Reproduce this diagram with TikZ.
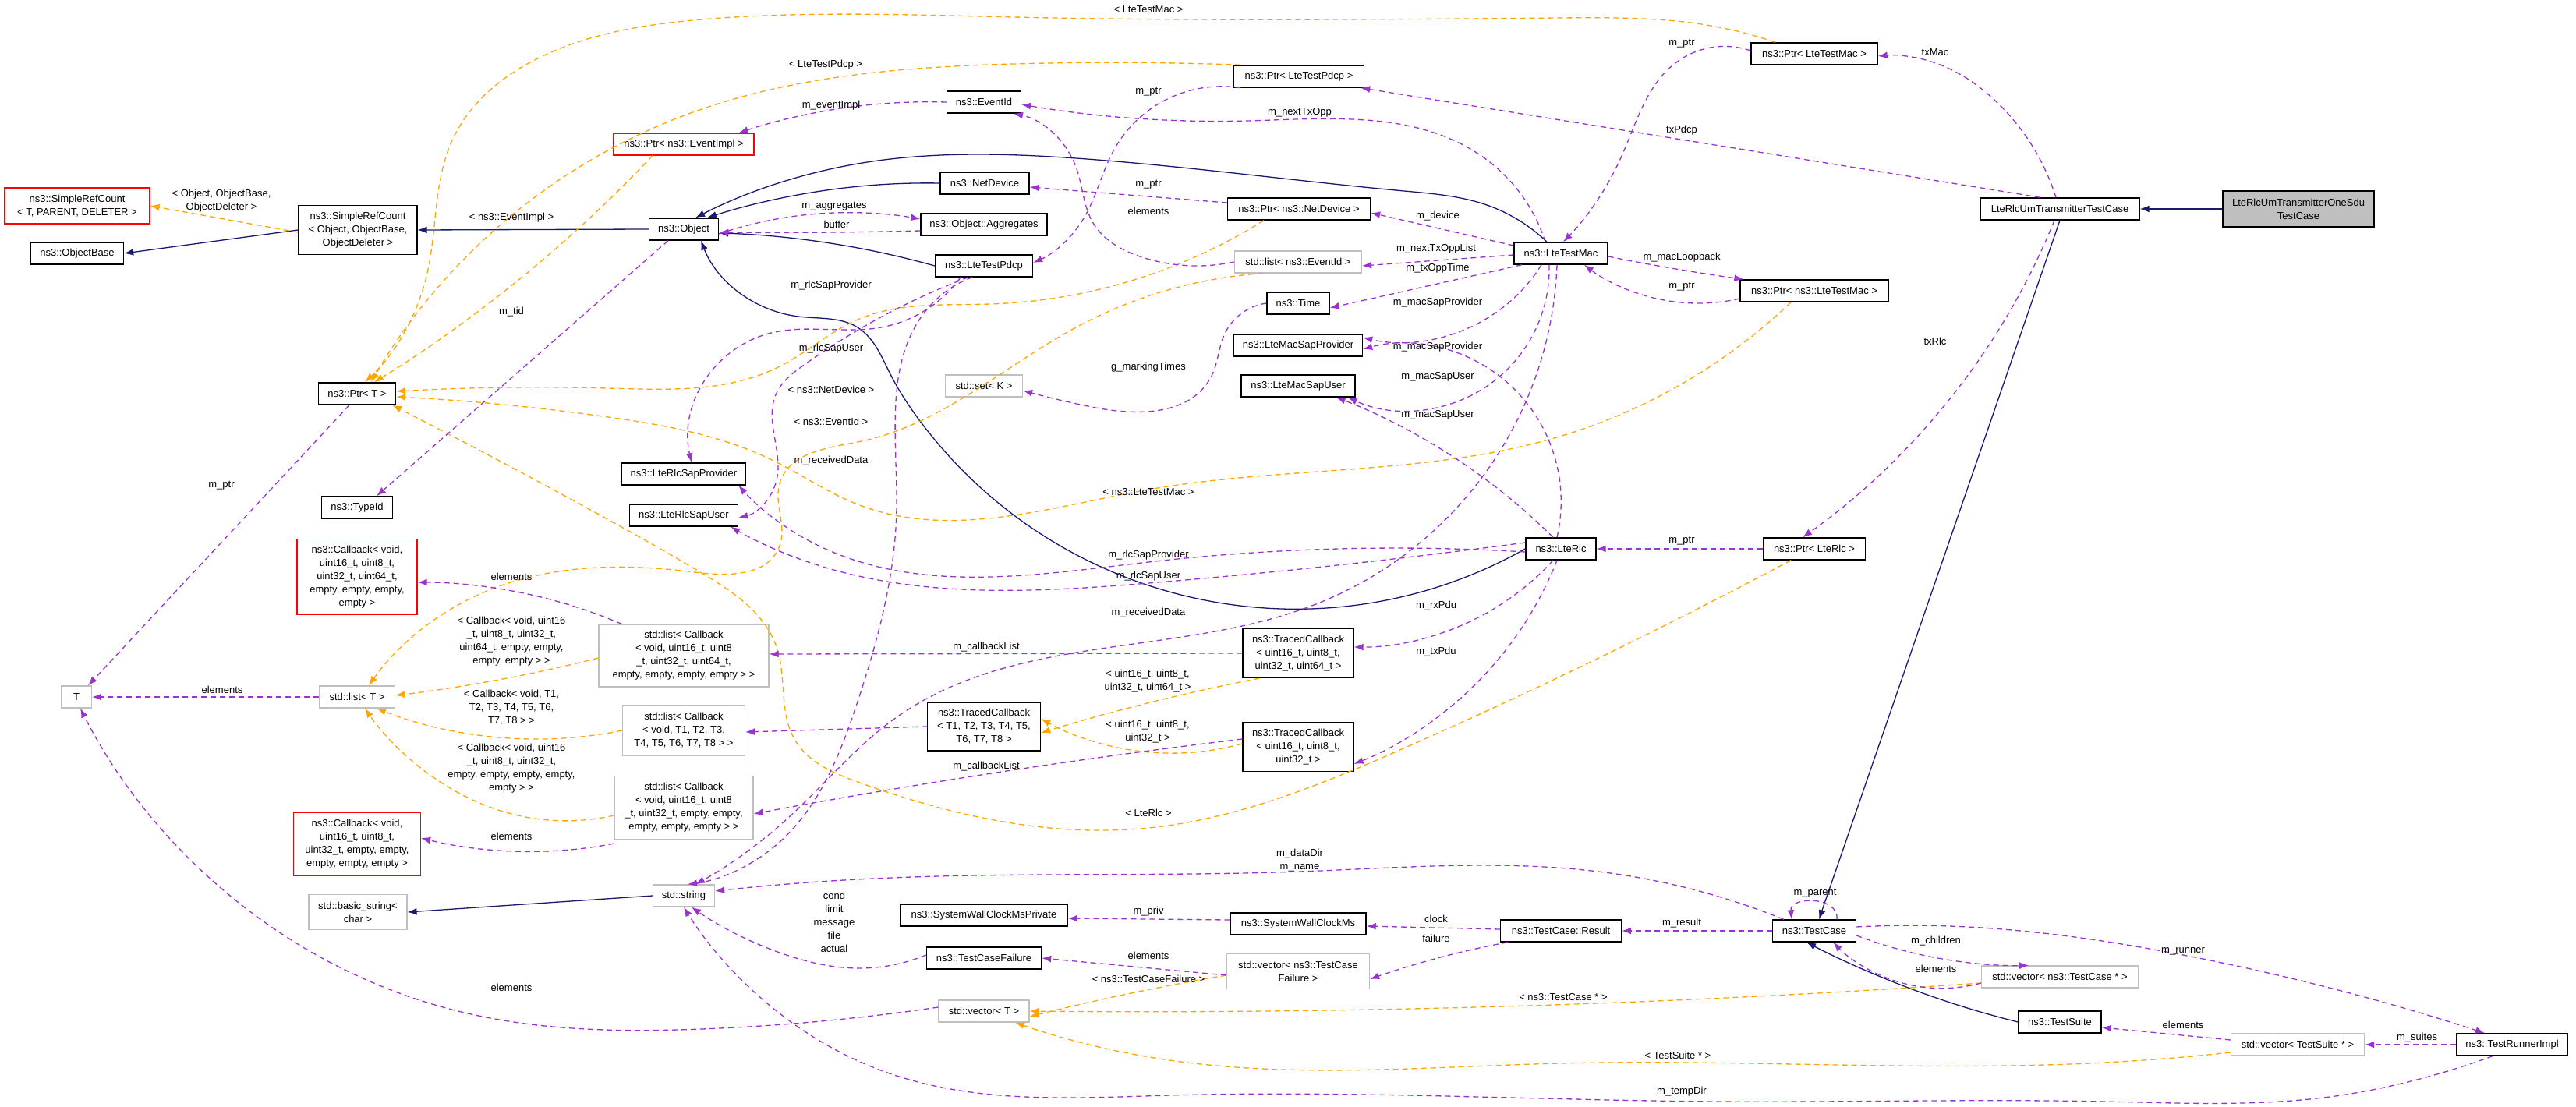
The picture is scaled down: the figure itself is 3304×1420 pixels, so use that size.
\documentclass[tikz,border=0pt]{standalone}
\usepackage{fontspec}
\setmainfont{Liberation Sans}
\usetikzlibrary{arrows.meta,hobby}
\definecolor{mem}{HTML}{9A32CD}
\definecolor{tpl}{HTML}{FFA500}
\definecolor{inh}{HTML}{191970}
\definecolor{gb}{HTML}{BFBFBF}
\begin{document}
\begin{tikzpicture}[x=1pt,y=-1pt,
  every node/.style={font=\fontsize{13}{17}\selectfont},
  box/.style={draw=black,line width=1.4pt,minimum height=28,inner xsep=5,inner ysep=2,align=center,fill=white},
  gbox/.style={box,draw=gb,line width=1.2pt},
  rbox/.style={box,draw=red,line width=1.2pt},
  lbl/.style={align=center,inner sep=1},
  memb/.style={draw=mem,line width=1.3pt,dash pattern=on 7pt off 5pt,-{Latex[length=12pt,width=9pt]},use Hobby shortcut},
  tmpl/.style={draw=tpl,line width=1.3pt,dash pattern=on 7pt off 5pt,-{Latex[length=12pt,width=9pt]},use Hobby shortcut},
  inhr/.style={draw=inh,line width=1.3pt,-{Latex[length=12pt,width=9pt]},use Hobby shortcut}]
\useasboundingbox (0,0) rectangle (3304,1420);
% nodes
\node[rbox,minimum width=186,minimum height=46] (SRCt) at (99,264) {ns3::SimpleRefCount\\< T, PARENT, DELETER >};
\node[box,minimum width=119] (OB) at (99,325) {ns3::ObjectBase};
\node[box,minimum width=152,minimum height=63] (SRC) at (459,295) {ns3::SimpleRefCount\\< Object, ObjectBase,\\ObjectDeleter >};
\node[box,minimum width=89] (Obj) at (877,294) {ns3::Object};
\node[rbox,minimum width=180] (PEI) at (877,185) {ns3::Ptr< ns3::EventImpl >};
\node[box,minimum width=99] (PT) at (458,505) {ns3::Ptr< T >};
\node[box,minimum width=91] (TId) at (458,651) {ns3::TypeId};
\node[box,minimum width=159] (RSP) at (877,608) {ns3::LteRlcSapProvider};
\node[box,minimum width=139] (RSU) at (877,661) {ns3::LteRlcSapUser};
\node[rbox,minimum width=154,minimum height=97] (C64) at (458,740) {ns3::Callback< void,\\uint16\_t, uint8\_t,\\uint32\_t, uint64\_t,\\empty, empty, empty,\\empty >};
\node[gbox,minimum width=39] (T) at (98,894) {T};
\node[gbox,minimum width=97] (LT) at (458,894) {std::list< T >};
\node[gbox,minimum width=218,minimum height=80] (LC64) at (877,841) {std::list< Callback\\< void, uint16\_t, uint8\\\_t, uint32\_t, uint64\_t,\\empty, empty, empty, empty > >};
\node[gbox,minimum width=157,minimum height=64] (LCT) at (877,937) {std::list< Callback\\< void, T1, T2, T3,\\T4, T5, T6, T7, T8 > >};
\node[gbox,minimum width=178,minimum height=81] (LC32) at (877,1036) {std::list< Callback\\< void, uint16\_t, uint8\\\_t, uint32\_t, empty, empty,\\empty, empty, empty > >};
\node[rbox,minimum width=163,minimum height=81] (C32) at (458,1083) {ns3::Callback< void,\\uint16\_t, uint8\_t,\\uint32\_t, empty, empty,\\empty, empty, empty >};
\node[gbox,minimum width=79] (Str) at (877,1149) {std::string};
\node[gbox,minimum width=126,minimum height=45] (BS) at (459,1170) {std::basic\_string<\\char >};
\node[box,minimum width=167] (PLP) at (1666,98) {ns3::Ptr< LteTestPdcp >};
\node[box,minimum width=95] (EId) at (1262,131) {ns3::EventId};
\node[box,minimum width=114] (ND) at (1263,235) {ns3::NetDevice};
\node[box,minimum width=162] (Agg) at (1262,288) {ns3::Object::Aggregates};
\node[box,minimum width=125] (LTP) at (1262,341) {ns3::LteTestPdcp};
\node[box,minimum width=183] (PND) at (1666,268) {ns3::Ptr< ns3::NetDevice >};
\node[gbox,minimum width=163] (LEI) at (1665,336) {std::list< ns3::EventId >};
\node[box,minimum width=120] (LTM) at (2002,325) {ns3::LteTestMac};
\node[box,minimum width=80] (Time) at (1665,389) {ns3::Time};
\node[box,minimum width=165] (MSP) at (1665,443) {ns3::LteMacSapProvider};
\node[box,minimum width=146] (MSU) at (1665,495) {ns3::LteMacSapUser};
\node[gbox,minimum width=99] (SetK) at (1262,495) {std::set< K >};
\node[box,minimum width=90] (Rlc) at (2002,704) {ns3::LteRlc};
\node[box,minimum width=142,minimum height=63] (TC64) at (1665,838) {ns3::TracedCallback\\< uint16\_t, uint8\_t,\\uint32\_t, uint64\_t >};
\node[box,minimum width=145,minimum height=62] (TCT) at (1262,932) {ns3::TracedCallback\\< T1, T2, T3, T4, T5,\\T6, T7, T8 >};
\node[box,minimum width=142,minimum height=63] (TC32) at (1665,958) {ns3::TracedCallback\\< uint16\_t, uint8\_t,\\uint32\_t >};
\node[box,minimum width=214] (SWP) at (1262,1174) {ns3::SystemWallClockMsPrivate};
\node[box,minimum width=174] (SW) at (1665,1185) {ns3::SystemWallClockMs};
\node[box,minimum width=155] (Res) at (2002,1194) {ns3::TestCase::Result};
\node[box,minimum width=147] (TCF) at (1262,1229) {ns3::TestCaseFailure};
\node[gbox,minimum width=183,minimum height=45] (VF) at (1665,1246) {std::vector< ns3::TestCase\\Failure >};
\node[gbox,minimum width=116] (VT) at (1262,1297) {std::vector< T >};
\node[box,minimum width=162] (PLM) at (2327,69) {ns3::Ptr< LteTestMac >};
\node[box,minimum width=204] (TXC) at (2642,268) {LteRlcUmTransmitterTestCase};
\node[box,fill=gb,minimum width=194,minimum height=46] (One) at (2948,268) {LteRlcUmTransmitterOneSdu\\TestCase};
\node[box,minimum width=190] (PNLM) at (2327,373) {ns3::Ptr< ns3::LteTestMac >};
\node[box,minimum width=131] (PR) at (2327,704) {ns3::Ptr< LteRlc >};
\node[box,minimum width=107] (TC) at (2327,1194) {ns3::TestCase};
\node[gbox,minimum width=201] (VTC) at (2642,1253) {std::vector< ns3::TestCase * >};
\node[box,minimum width=106] (TS) at (2642,1311) {ns3::TestSuite};
\node[gbox,minimum width=171] (VTS) at (2947,1340) {std::vector< TestSuite * >};
\node[box,minimum width=143] (TR) at (3222,1340) {ns3::TestRunnerImpl};
% inheritance
\draw[inhr] (One.west) -- (TXC.east);
\draw[inhr] (TXC.south) -- ([xshift=6pt]TC.north);
\draw[inhr] (TS.west) .. (2450,1268) .. ([xshift=-10pt]TC.south);
\draw[inhr] (SRC.west) -- (OB.east);
\draw[inhr] (Obj.west) -- (SRC.east);
\draw[inhr] (ND.west) .. (1060,244) .. ([xshift=30pt]Obj.north);
\draw[inhr] (LTP.west) .. (1100,318) .. ([yshift=-5pt]Obj.east);
\draw[inhr] ([xshift=-18pt]LTM.north) .. (1907,263) .. (1801,245) .. (1380,203) .. (1100,210) .. ([xshift=15pt]Obj.north);
\draw[inhr] (Rlc.west) .. (1177,536) .. (1142,480) .. (1100,420) .. (1024,406) .. ([xshift=22pt]Obj.south);
\draw[inhr] (Str.west) -- (BS.east);
% templates
\draw[tmpl] ([yshift=-3pt]SRC.west) -- (SRCt.east);
\draw[tmpl] ([xshift=-50pt]PLM.north) .. (2200,34) .. (2000,23) .. (1300,22) .. (900,25) .. (700,70) .. (580,180) .. (548,350) .. ([xshift=10pt]PT.north);
\draw[tmpl] ([xshift=-75pt]PLP.north) .. (1300,82) .. (900,140) .. (640,290) .. ([xshift=18pt]PT.north);
\draw[tmpl] ([xshift=-40pt]PEI.south) .. (700,330) .. ([xshift=22pt]PT.north);
\draw[tmpl] ([xshift=-45pt]PND.south) .. (1270,390) .. (1100,410) .. (1000,470) .. (780,498) .. ([yshift=3pt]PT.east);
\draw[tmpl] ([xshift=-45pt]LEI.south) .. (1380,420) .. (1100,567) .. (1000,620) .. (1000,700) .. (891,734) .. (620,760) .. ([xshift=15pt]LT.north);
\draw[tmpl] ([xshift=-30pt]PNLM.south) .. (2000,560) .. (1473,628) .. (1100,647) .. (990,590) .. (780,535) .. ([yshift=-4pt]PT.east);
\draw[tmpl] ([xshift=-30pt]PR.south) .. (1800,960) .. (1473,1062) .. (1100,1003) .. (1020,950) .. (996,830) .. (900,735) .. (750,650) .. ([xshift=45pt]PT.south);
\draw[tmpl] ([xshift=-50pt]TC64.south) .. (1500,895) .. ([yshift=-8pt]TCT.east);
\draw[tmpl] ([yshift=4pt]TC32.west) .. (1450,962) .. ([yshift=10pt]TCT.east);
\draw[tmpl] ([yshift=-3pt]LC64.west) .. (650,870) .. ([yshift=2pt]LT.east);
\draw[tmpl] (LCT.west) .. (680,948) .. ([xshift=25pt]LT.south);
\draw[tmpl] ([yshift=-10pt]LC32.west) .. (660,1045) .. (560,1000) .. ([xshift=10pt]LT.south);
\draw[tmpl] ([yshift=-5pt]VF.west) .. (1400,1285) .. ([yshift=-7pt]VT.east);
\draw[tmpl] ([yshift=-8pt]VTC.west) .. (2100,1285) .. (VT.east);
\draw[tmpl] ([yshift=-10pt]VTS.west) .. (2700,1363) .. (2000,1364) .. (1500,1360) .. ([xshift=40pt]VT.south);
% members
\draw[memb] (EId.west) .. (1060,142) .. ([xshift=-20pt]PEI.north east);
\draw[memb] ([yshift=-6pt]Obj.east) .. (1070,273) .. ([yshift=7pt]Agg.west);
\draw[memb] ([yshift=-8pt]Agg.west) .. (1070,298) .. ([yshift=-4pt]Obj.east);
\draw[memb] ([xshift=-10pt]PT.south) -- ([xshift=15pt]T.north);
\draw[memb] ([xshift=-20pt]Obj.south) -- ([xshift=25pt]TId.north);
\draw[memb] ([xshift=-75pt]PLP.south) .. (1430,190) .. (1390,280) .. ([yshift=4pt]LTP.east);
\draw[memb] ([xshift=-20pt]LTM.north) .. (1900,200) .. (1600,155) .. ([yshift=-3pt]EId.east);
\draw[memb] ([yshift=8pt]PND.west) -- ([yshift=-5pt]ND.east);
\draw[memb] (LEI.west) .. (1465,330) .. (1402,286) .. (1380,214) .. ([xshift=38pt]EId.south);
\draw[memb] ([yshift=10pt]LTM.west) -- ([yshift=-5pt]PND.east);
\draw[memb] ([yshift=-2pt]LTM.west) -- ([yshift=-5pt]LEI.east);
\draw[memb] ([xshift=-50pt]LTM.south) -- ([yshift=-6pt]Time.east);
\draw[memb] ([xshift=-25pt]LTM.south) .. (1920,400) .. ([yshift=10pt]MSP.east);
\draw[memb] ([xshift=-5pt]Rlc.north) .. (1920,480) .. ([yshift=-5pt]MSP.east);
\draw[memb] ([xshift=-15pt]LTM.south) .. (1900,500) .. ([xshift=-10pt]MSU.south east);
\draw[memb] ([xshift=-10pt]Rlc.north) .. (1870,590) .. ([xshift=-25pt]MSU.south east);
\draw[memb] (Time.west) .. (1570,430) .. (1555,480) .. (1400,522) .. ([yshift=-6pt]SetK.east);
\draw[memb] ([yshift=4pt]PLM.west) .. (2150,80) .. (2080,200) .. ([xshift=3pt]LTM.north);
\draw[memb] ([yshift=-10pt]PNLM.west) .. (2140,386) .. ([xshift=30pt]LTM.south);
\draw[memb] ([yshift=-4pt]LTM.east) .. (2180,350) .. ([xshift=5pt]PNLM.north west);
\draw[memb] ([xshift=-5pt]TXC.north) .. (2560,130) .. (2480,80) .. ([yshift=-3pt]PLM.east);
\draw[memb] ([xshift=-25pt]TXC.north) -- ([xshift=-5pt]PLP.south east);
\draw[memb] ([xshift=-7pt]TXC.south) .. (2510,500) .. ([xshift=-15pt]PR.north);
\draw[memb] (PR.west) -- (Rlc.east);
\draw[memb] ([xshift=-30pt]LTP.south) .. (1130,420) .. (982,429) .. ([xshift=10pt]RSP.north);
\draw[memb] ([yshift=-4pt]Rlc.west) .. (1473,721) .. (1050,700) .. ([xshift=-10pt]RSP.south east);
\draw[memb] ([xshift=-20pt]LTP.south) .. (1030,469) .. (996,504) .. (996,616) .. ([yshift=-3pt]RSU.east);
\draw[memb] ([yshift=8pt]Rlc.west) .. (1473,748) .. (1020,715) .. ([xshift=-10pt]RSU.south east);
\draw[memb] ([xshift=-15pt]LTP.south) .. (1195,390) .. (1150,650) .. (1100,900) .. (1000,1080) .. ([xshift=5pt]Str.north);
\draw[memb] ([xshift=-5pt]LTM.south) .. (1700,770) .. (1150,920) .. (1010,1050) .. ([xshift=15pt]Str.north);
\draw[memb] (TC64.west) -- ([yshift=2pt]LC64.east);
\draw[memb] (TCT.west) -- ([yshift=-2pt]LCT.east);
\draw[memb] ([yshift=10pt]TC32.west) .. (1265,993) .. ([yshift=-8pt]LC32.east);
\draw[memb] ([xshift=-10pt]Rlc.south) .. (1900,790) .. ([yshift=8pt]TC64.east);
\draw[memb] ([xshift=-5pt]Rlc.south) .. (1900,870) .. ([yshift=-22pt]TC32.east);
\draw[memb] ([xshift=30pt]LC64.north west) .. (690,765) .. ([yshift=-7pt]C64.east);
\draw[memb] ([yshift=-5pt]LC32.south west) .. (700,1092) .. ([yshift=8pt]C32.east);
\draw[memb] (LT.west) -- (T.east);
\draw[memb] ([yshift=5pt]VT.west) .. (900,1320) .. (600,1300) .. (351,1191) .. ([xshift=5pt]T.south);
\draw[memb] ([xshift=15pt]TC.north west) .. (2050,1118) .. (1667,1118) .. (1100,1128) .. ([yshift=6pt]Str.east);
\draw[memb] ([yshift=4pt]TCF.west) .. (1100,1242) .. (1000,1222) .. ([xshift=10pt]Str.south);
\draw[memb] ([xshift=-25pt]TR.south) .. (3100,1385) .. (2980,1408) .. (2700,1413) .. (2200,1413) .. (1500,1405) .. (1150,1380) .. (1000,1300) .. (Str.south);
\draw[memb] ([yshift=5pt]SW.west) -- ([yshift=-4pt]SWP.east);
\draw[memb] ([yshift=2pt]Res.west) -- ([yshift=-3pt]SW.east);
\draw[memb] ([xshift=10pt]Res.south west) .. (1840,1230) .. ([yshift=-10pt]VF.east);
\draw[memb] ([yshift=-5pt]VF.west) -- (TCF.east);
\draw[memb] (TC.west) -- (Res.east);
\draw[memb] ([xshift=29pt]TC.north) .. controls ([xshift=32pt,yshift=30pt]TC.north) and ([xshift=-32pt,yshift=30pt]TC.north) .. ([xshift=-29pt]TC.north);
\draw[memb] ([yshift=-6pt]TC.east) .. (2480,1228) .. ([xshift=-40pt]VTC.north);
\draw[memb] ([yshift=-8pt]VTC.west) .. (2430,1258) .. ([xshift=-30pt]TC.south east);
\draw[memb] ([yshift=5pt]TC.east) .. (2500,1188) .. (2800,1225) .. ([xshift=-35pt]TR.north);
\draw[memb] (TR.west) -- (VTS.east);
\draw[memb] ([yshift=6pt]VTS.west) -- ([yshift=-7pt]TS.east);
% labels
\node[lbl] at (284,258) {< Object, ObjectBase,\\ObjectDeleter >};
\node[lbl] at (656,279) {< ns3::EventImpl >};
\node[lbl] at (656,400) {m\_tid};
\node[lbl] at (284,623) {m\_ptr};
\node[lbl] at (656,740) {elements};
\node[lbl] at (656,823) {< Callback< void, uint16\\\_t, uint8\_t, uint32\_t,\\uint64\_t, empty, empty,\\empty, empty > >};
\node[lbl] at (656,908) {< Callback< void, T1,\\T2, T3, T4, T5, T6,\\T7, T8 > >};
\node[lbl] at (656,986) {< Callback< void, uint16\\\_t, uint8\_t, uint32\_t,\\empty, empty, empty, empty,\\empty > >};
\node[lbl] at (285,885) {elements};
\node[lbl] at (656,1073) {elements};
\node[lbl] at (656,1267) {elements};
\node[lbl] at (1070,1183) {cond\\limit\\message\\file\\actual};
\node[lbl] at (1473,12) {< LteTestMac >};
\node[lbl] at (1059,83) {< LteTestPdcp >};
\node[lbl] at (1473,118) {m\_ptr};
\node[lbl] at (1066,135) {m\_eventImpl};
\node[lbl] at (1667,144) {m\_nextTxOpp};
\node[lbl] at (2157,167) {txPdcp};
\node[lbl] at (1473,237) {m\_ptr};
\node[lbl] at (1070,265) {m\_aggregates};
\node[lbl] at (1073,288) {buffer};
\node[lbl] at (1473,271) {elements};
\node[lbl] at (1844,277) {m\_device};
\node[lbl] at (1842,319) {m\_nextTxOppList};
\node[lbl] at (1844,344) {m\_txOppTime};
\node[lbl] at (1844,388) {m\_macSapProvider};
\node[lbl] at (1844,445) {m\_macSapProvider};
\node[lbl] at (1844,483) {m\_macSapUser};
\node[lbl] at (1844,532) {m\_macSapUser};
\node[lbl] at (1473,471) {g\_markingTimes};
\node[lbl] at (1473,631) {< ns3::LteTestMac >};
\node[lbl] at (2157,56) {m\_ptr};
\node[lbl] at (2157,330) {m\_macLoopback};
\node[lbl] at (2157,368) {m\_ptr};
\node[lbl] at (2157,694) {m\_ptr};
\node[lbl] at (1066,366) {m\_rlcSapProvider};
\node[lbl] at (1066,447) {m\_rlcSapUser};
\node[lbl] at (1066,500) {< ns3::NetDevice >};
\node[lbl] at (1066,541) {< ns3::EventId >};
\node[lbl] at (1066,591) {m\_receivedData};
\node[lbl] at (1473,712) {m\_rlcSapProvider};
\node[lbl] at (1473,739) {m\_rlcSapUser};
\node[lbl] at (1473,786) {m\_receivedData};
\node[lbl] at (1265,830) {m\_callbackList};
\node[lbl] at (1842,777) {m\_rxPdu};
\node[lbl] at (1842,836) {m\_txPdu};
\node[lbl] at (1472,874) {< uint16\_t, uint8\_t,\\uint32\_t, uint64\_t >};
\node[lbl] at (1472,939) {< uint16\_t, uint8\_t,\\uint32\_t >};
\node[lbl] at (1265,983) {m\_callbackList};
\node[lbl] at (1473,1043) {< LteRlc >};
\node[lbl] at (1667,1104) {m\_dataDir\\m\_name};
\node[lbl] at (1473,1169) {m\_priv};
\node[lbl] at (1842,1179) {clock};
\node[lbl] at (1842,1204) {failure};
\node[lbl] at (2157,1184) {m\_result};
\node[lbl] at (1473,1226) {elements};
\node[lbl] at (1473,1256) {< ns3::TestCaseFailure >};
\node[lbl] at (2005,1279) {< ns3::TestCase * >};
\node[lbl] at (2152,1354) {< TestSuite * >};
\node[lbl] at (2157,1400) {m\_tempDir};
\node[lbl] at (2482,67) {txMac};
\node[lbl] at (2482,438) {txRlc};
\node[lbl] at (2328,1146) {m\_parent};
\node[lbl] at (2483,1207) {m\_children};
\node[lbl] at (2483,1243) {elements};
\node[lbl] at (2800,1220) {m\_runner};
\node[lbl] at (2800,1315) {elements};
\node[lbl] at (3100,1331) {m\_suites};
\end{tikzpicture}
\end{document}
